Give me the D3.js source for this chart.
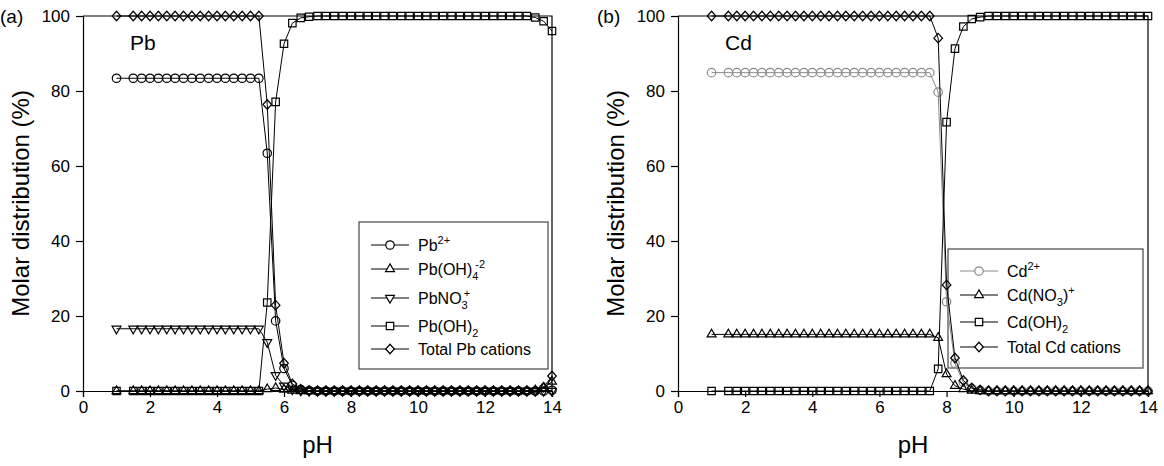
<!DOCTYPE html>
<html>
<head>
<meta charset="utf-8">
<script src="https://cdn.jsdelivr.net/npm/d3@7"></script>
<style>
  body { margin: 0; background: #fff; }
  svg { font-family: 'Liberation Sans', Arial, sans-serif; }
</style>
</head>
<body>
<div id="divChart"></div>
<script>
// pH grid used by both panels (one point at pH 1, then every 0.25 from 1.5 to 14)
var pH = [1, 1.5, 1.75, 2, 2.25, 2.5, 2.75, 3, 3.25, 3.5,
  3.75, 4, 4.25, 4.5, 4.75, 5, 5.25, 5.5, 5.75, 6,
  6.25, 6.5, 6.75, 7, 7.25, 7.5, 7.75, 8, 8.25, 8.5,
  8.75, 9, 9.25, 9.5, 9.75, 10, 10.25, 10.5, 10.75, 11,
  11.25, 11.5, 11.75, 12, 12.25, 12.5, 12.75, 13, 13.25, 13.5,
  13.75, 14]

var xTicks = [0, 2, 4, 6, 8, 10, 12, 14]
var yTicks = [0, 20, 40, 60, 80, 100]

// panel (a) lead species, molar distribution in %
var pbFree = [83.4, 83.4, 83.4, 83.4, 83.4, 83.4, 83.4, 83.4, 83.4, 83.4,
  83.4, 83.4, 83.4, 83.4, 83.4, 83.4, 83.4, 63.4, 18.7, 6.0,
  1.5, 0.4, 0.1, 0, 0, 0, 0, 0, 0, 0,
  0, 0, 0, 0, 0, 0, 0, 0, 0, 0,
  0, 0, 0, 0, 0, 0, 0, 0, 0, 0,
  0, 0.2]
var pbOH4 = [0, 0, 0, 0, 0, 0, 0, 0, 0, 0,
  0, 0, 0, 0, 0, 0, 0, 0.5, 0.8, 0.4,
  0.1, 0, 0, 0, 0, 0, 0, 0, 0, 0,
  0, 0, 0, 0, 0, 0, 0, 0, 0, 0,
  0, 0, 0, 0, 0, 0, 0, 0, 0, 0.2,
  0.8, 2.5]
var pbNO3 = [16.6, 16.6, 16.6, 16.6, 16.6, 16.6, 16.6, 16.6, 16.6, 16.6,
  16.6, 16.6, 16.6, 16.6, 16.6, 16.6, 16.6, 13.0, 4.2, 1.4,
  0.4, 0.1, 0, 0, 0, 0, 0, 0, 0, 0,
  0, 0, 0, 0, 0, 0, 0, 0, 0, 0,
  0, 0, 0, 0, 0, 0, 0, 0, 0, 0,
  0, 0]
var pbOH2 = [0, 0, 0, 0, 0, 0, 0, 0, 0, 0,
  0, 0, 0, 0, 0, 0, 0, 23.6, 77.1, 92.6,
  98.1, 99.5, 99.8, 100, 100, 100, 100, 100, 100, 100,
  100, 100, 100, 100, 100, 100, 100, 100, 100, 100,
  100, 100, 100, 100, 100, 100, 100, 100, 100, 99.6,
  98.6, 96.0]
var pbTotal = [100, 100, 100, 100, 100, 100, 100, 100, 100, 100,
  100, 100, 100, 100, 100, 100, 100, 76.4, 22.9, 7.4,
  1.9, 0.5, 0.1, 0, 0, 0, 0, 0, 0, 0,
  0, 0, 0, 0, 0, 0, 0, 0, 0, 0,
  0, 0, 0, 0, 0, 0, 0, 0, 0, 0,
  1.0, 4.0]

// panel (b) cadmium species, molar distribution in %
var cdFree = [84.9, 84.9, 84.9, 84.9, 84.9, 84.9, 84.9, 84.9, 84.9, 84.9,
  84.9, 84.9, 84.9, 84.9, 84.9, 84.9, 84.9, 84.9, 84.9, 84.9,
  84.9, 84.9, 84.9, 84.9, 84.9, 84.9, 79.7, 23.8, 7.4, 2.3,
  0.7, 0.2, 0, 0, 0, 0, 0, 0, 0, 0,
  0, 0, 0, 0, 0, 0, 0, 0, 0, 0,
  0, 0]
var cdNO3 = [15.1, 15.1, 15.1, 15.1, 15.1, 15.1, 15.1, 15.1, 15.1, 15.1,
  15.1, 15.1, 15.1, 15.1, 15.1, 15.1, 15.1, 15.1, 15.1, 15.1,
  15.1, 15.1, 15.1, 15.1, 15.1, 15.1, 14.2, 4.5, 1.4, 0.5,
  0.1, 0, 0, 0, 0, 0, 0, 0, 0, 0,
  0, 0, 0, 0, 0, 0, 0, 0, 0, 0,
  0, 0]
var cdOH2 = [0, 0, 0, 0, 0, 0, 0, 0, 0, 0,
  0, 0, 0, 0, 0, 0, 0, 0, 0, 0,
  0, 0, 0, 0, 0, 0, 5.9, 71.7, 91.3, 97.2,
  99.2, 99.7, 100, 100, 100, 100, 100, 100, 100, 100,
  100, 100, 100, 100, 100, 100, 100, 100, 100, 100,
  100, 100]
var cdTotal = [100, 100, 100, 100, 100, 100, 100, 100, 100, 100,
  100, 100, 100, 100, 100, 100, 100, 100, 100, 100,
  100, 100, 100, 100, 100, 100, 94.1, 28.3, 8.8, 2.8,
  0.8, 0.3, 0, 0, 0, 0, 0, 0, 0, 0,
  0, 0, 0, 0, 0, 0, 0, 0, 0, 0,
  0, 0]

// legend labels, split into normal / sub / sup parts
var pbLabels = [
  [{ t: 'Pb' }, { t: '2+', s: 'sup' }],
  [{ t: 'Pb(OH)' }, { t: '4', s: 'sub' }, { t: '-2', s: 'sup', dx: -3 }],
  [{ t: 'PbNO' }, { t: '3', s: 'sub' }, { t: '+', s: 'sup', dx: -4 }],
  [{ t: 'Pb(OH)' }, { t: '2', s: 'sub' }],
  [{ t: 'Total Pb cations' }]
]
var cdLabels = [
  [{ t: 'Cd' }, { t: '2+', s: 'sup' }],
  [{ t: 'Cd(NO' }, { t: '3', s: 'sub' }, { t: ')' }, { t: '+', s: 'sup' }],
  [{ t: 'Cd(OH)' }, { t: '2', s: 'sub' }],
  [{ t: 'Total Cd cations' }]
]

// diamond symbol a bit wider than d3's own
var symbolDiamondWide = {
  draw: function (context, size) {
    var a = Math.sqrt(size / 2.2)
    var b = a * 1.1
    context.moveTo(0, -b)
    context.lineTo(a, 0)
    context.lineTo(0, b)
    context.lineTo(-a, 0)
    context.closePath()
  }
}

var markers = {
  circle: { type: d3.symbolCircle, size: 56, rot: 0 },
  triUp: { type: d3.symbolTriangle, size: 34, rot: 0 },
  triDown: { type: d3.symbolTriangle, size: 34, rot: 180 },
  square: { type: d3.symbolSquare, size: 55, rot: 0 },
  diamond: { type: symbolDiamondWide, size: 41, rot: 0 }
}

var panels = [
  {
    tag: '(a)',
    tagX: 0,
    element: 'Pb',
    x0: 83,
    x1: 552,
    titleX: 21,
    legend: { x: 359, y: 222, w: 189, h: 147, rows: [245, 269, 298, 326, 349] },
    series: [
      { values: pbFree, marker: 'circle', color: '#000', label: pbLabels[0] },
      { values: pbOH4, marker: 'triUp', color: '#000', label: pbLabels[1] },
      { values: pbNO3, marker: 'triDown', color: '#000', label: pbLabels[2] },
      { values: pbOH2, marker: 'square', color: '#000', label: pbLabels[3] },
      { values: pbTotal, marker: 'diamond', color: '#000', label: pbLabels[4] }
    ]
  },
  {
    tag: '(b)',
    tagX: 597,
    element: 'Cd',
    x0: 678,
    x1: 1148,
    titleX: 616,
    legend: { x: 948, y: 249, w: 195, h: 119, rows: [271, 295, 322, 347] },
    series: [
      { values: cdFree, marker: 'circle', color: '#8a8a8a', label: cdLabels[0] },
      { values: cdNO3, marker: 'triUp', color: '#000', label: cdLabels[1] },
      { values: cdOH2, marker: 'square', color: '#000', label: cdLabels[2] },
      { values: cdTotal, marker: 'diamond', color: '#000', label: cdLabels[3] }
    ]
  }
]

var layout = { yTop: 16, yBottom: 391 }

var svg = d3.select('#divChart')
  .append('svg')
  .attr('width', 1164)
  .attr('height', 466)

function markerPath (name) {
  var m = markers[name]
  return d3.symbol().type(m.type).size(m.size)()
}

function markerTransform (name, x, y) {
  var m = markers[name]
  return 'translate(' + x + ',' + y + ')' + (m.rot ? ' rotate(' + m.rot + ')' : '')
}

// writes text made of normal, subscript and superscript parts
function addRichText (sel, parts) {
  var offset = 0
  parts.forEach(function (p) {
    var target = p.s === 'sup' ? -7 : p.s === 'sub' ? 5 : 0
    var ts = sel.append('tspan')
      .attr('dy', target - offset)
      .text(p.t)
    if (p.s) ts.attr('font-size', 11)
    if (p.dx) ts.attr('dx', p.dx)
    offset = target
  })
}

function drawPanel (p) {
  var xScale = d3.scaleLinear().domain([0, 14]).range([p.x0, p.x1])
  var yScale = d3.scaleLinear().domain([0, 100]).range([layout.yBottom, layout.yTop])

  var g = svg.append('g')

  // legend goes first so the curves stay visible on top of it
  drawLegend(g, p)

  // frame: top and right borders
  g.append('path')
    .attr('d', 'M' + xScale(0) + ',' + yScale(100) + 'H' + xScale(14) + 'V' + yScale(0))
    .attr('fill', 'none')
    .attr('stroke', '#000')
    .attr('stroke-width', 1.2)

  // axes
  var xAxis = d3.axisBottom(xScale).tickValues(xTicks).tickSize(6).tickPadding(4)
  var yAxis = d3.axisLeft(yScale).tickValues(yTicks).tickSize(7).tickPadding(6)

  g.append('g')
    .attr('transform', 'translate(0,' + yScale(0) + ')')
    .call(xAxis)
    .call(styleAxis)
  g.append('g')
    .attr('transform', 'translate(' + xScale(0) + ',0)')
    .call(yAxis)
    .call(styleAxis)

  // axis titles
  g.append('text')
    .attr('x', (xScale(0) + xScale(14)) / 2)
    .attr('y', 453)
    .attr('text-anchor', 'middle')
    .attr('font-size', 24)
    .text('pH')
  g.append('text')
    .attr('transform', 'translate(' + (p.titleX + 8) + ',' + ((yScale(0) + yScale(100)) / 2) + ') rotate(-90)')
    .attr('text-anchor', 'middle')
    .attr('font-size', 24)
    .text('Molar distribution (%)')

  // panel tag and element name
  g.append('text')
    .attr('x', p.tagX)
    .attr('y', yScale(100) + 7)
    .attr('font-size', 19)
    .text(p.tag)
  g.append('text')
    .attr('x', xScale(1.4))
    .attr('y', yScale(91))
    .attr('font-size', 21)
    .text(p.element)

  // series lines and markers
  var line = d3.line()
    .x(function (d, i) { return xScale(pH[i]) })
    .y(function (d) { return yScale(d) })

  p.series.forEach(function (s) {
    g.append('path')
      .datum(s.values)
      .attr('d', line)
      .attr('fill', 'none')
      .attr('stroke', s.color)
      .attr('stroke-width', 1)
    g.append('g')
      .selectAll('path')
      .data(s.values)
      .enter()
      .append('path')
      .attr('d', markerPath(s.marker))
      .attr('transform', function (d, i) {
        return markerTransform(s.marker, xScale(pH[i]), yScale(d))
      })
      .attr('fill', 'none')
      .attr('stroke', s.color)
      .attr('stroke-width', 1.2)
  })
}

function styleAxis (sel) {
  sel.select('.domain').attr('stroke-width', 1.2)
  sel.selectAll('.tick line').attr('stroke-width', 1.2)
  sel.selectAll('.tick text')
    .attr('font-size', 17)
    .attr('font-family', "'Liberation Sans', Arial, sans-serif")
    .attr('fill', '#000')
}

function drawLegend (g, p) {
  var L = p.legend
  var lg = g.append('g')
  lg.append('rect')
    .attr('x', L.x)
    .attr('y', L.y)
    .attr('width', L.w)
    .attr('height', L.h)
    .attr('fill', '#fff')
    .attr('stroke', '#555')
    .attr('stroke-width', 1.3)

  p.series.forEach(function (s, i) {
    var y = L.rows[i]
    lg.append('line')
      .attr('x1', L.x + 12)
      .attr('x2', L.x + 50)
      .attr('y1', y)
      .attr('y2', y)
      .attr('stroke', s.color)
      .attr('stroke-width', 1)
    lg.append('path')
      .attr('d', markerPath(s.marker))
      .attr('transform', markerTransform(s.marker, L.x + 31, y))
      .attr('fill', '#fff')
      .attr('stroke', s.color)
      .attr('stroke-width', 1.2)
    var t = lg.append('text')
      .attr('x', L.x + 59)
      .attr('y', y + 6)
      .attr('font-size', 16)
    addRichText(t, s.label)
  })
}

panels.forEach(drawPanel)
</script>
</body>
</html>
